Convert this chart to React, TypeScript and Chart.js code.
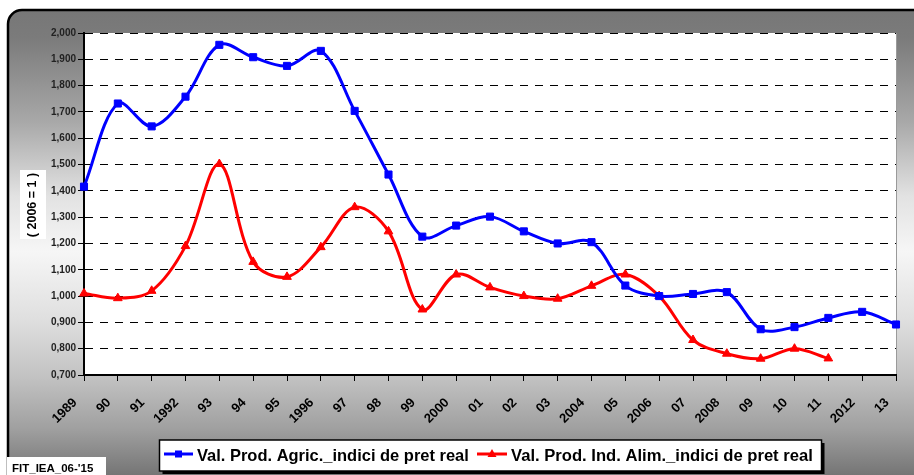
import React, { useEffect, useRef } from 'react';
import { Chart, registerables } from 'chart.js';

Chart.register(...registerables);

const yearLabels = ['1989', '90', '91', '1992', '93', '94', '95', '1996', '97', '98', '99', '2000', '01', '02', '03', '2004', '05', '2006', '07', '2008', '09', '10', '11', '2012', '13'];

const agricIndex = [1.416, 1.732, 1.645, 1.758, 1.955, 1.908, 1.875, 1.932, 1.704, 1.462, 1.226, 1.268, 1.302, 1.246, 1.2, 1.205, 1.04, 1.0, 1.008, 1.015, 0.874, 0.882, 0.917, 0.94, 0.892];

const alimIndex = [1.01, 0.992, 1.02, 1.19, 1.502, 1.13, 1.073, 1.186, 1.338, 1.246, 0.949, 1.082, 1.033, 1.0, 0.99, 1.039, 1.082, 1.0, 0.833, 0.781, 0.762, 0.8, 0.763, null, null];

const seriesNames = ['Val. Prod. Agric._indici de pret real', 'Val. Prod. Ind. Alim._indici de pret real'];
const seriesColors = ['#0000ff', '#ff0000'];
const yMin = 0.7;
const yMax = 2.0;
const yStep = 0.1;
const yAxisTitle = '( 2006 = 1 )';
const sourceNote = "FIT_IEA_06-'15";

const FONT = '"Liberation Sans", Arial, sans-serif';

const decorPlugin = {
  id: 'decor',
  beforeDraw(chart: any) {
    const ctx = chart.ctx;
    const ca = chart.chartArea;
    ctx.save();
    const g = ctx.createLinearGradient(0, 10, 0, 475);
    g.addColorStop(0, '#777777');
    g.addColorStop(0.06, '#7b7b7b');
    g.addColorStop(0.24, '#a8a8a8');
    g.addColorStop(0.4, '#e2e2e2');
    g.addColorStop(0.52, '#f6f6f6');
    g.addColorStop(0.66, '#e0e0e0');
    g.addColorStop(0.79, '#c2c2c2');
    g.addColorStop(0.9, '#a0a0a0');
    g.addColorStop(1, '#757575');
    ctx.beginPath();
    ctx.roundRect(8, 10, 940, 520, 14);
    ctx.fillStyle = g;
    ctx.fill();
    ctx.lineWidth = 2.5;
    ctx.strokeStyle = '#000';
    ctx.stroke();
    ctx.fillStyle = '#ffffff';
    ctx.fillRect(ca.left, ca.top, ca.right - ca.left, ca.bottom - ca.top);
    ctx.strokeStyle = '#9a9a9a';
    ctx.lineWidth = 1;
    ctx.beginPath();
    ctx.moveTo(ca.right + 0.5, ca.top);
    ctx.lineTo(ca.right + 0.5, ca.bottom);
    ctx.stroke();
    ctx.restore();
  },
  afterDraw(chart: any) {
    const ctx = chart.ctx;
    ctx.save();
    // y axis title box
    ctx.fillStyle = '#ffffff';
    ctx.fillRect(20, 170, 26, 69);
    ctx.translate(33, 205);
    ctx.rotate(-Math.PI / 2);
    ctx.fillStyle = '#000';
    ctx.font = `bold 12.5px ${FONT}`;
    ctx.textAlign = 'center';
    ctx.textBaseline = 'middle';
    ctx.fillText(yAxisTitle, 0, 0);
    ctx.restore();

    // source note
    ctx.save();
    ctx.fillStyle = '#ffffff';
    ctx.fillRect(7, 457, 99, 18);
    ctx.fillStyle = '#000';
    ctx.font = `bold 11.5px ${FONT}`;
    ctx.textBaseline = 'alphabetic';
    ctx.textAlign = 'left';
    ctx.fillText(sourceNote, 12, 472);
    ctx.restore();

    // legend
    ctx.save();
    const bx = 159.5, by = 440, bw = 662, bh = 31;
    ctx.fillStyle = '#000';
    ctx.fillRect(bx + 3, by + 3, bw, bh);
    ctx.fillStyle = '#fff';
    ctx.fillRect(bx, by, bw, bh);
    ctx.strokeStyle = '#000';
    ctx.lineWidth = 1.5;
    ctx.strokeRect(bx, by, bw, bh);
    const entries = [
      { x0: 164, x1: 193, tx: 197, tw: 272, style: 'rect' },
      { x0: 477, x1: 507, tx: 511, tw: 302, style: 'triangle' },
    ];
    entries.forEach((e, i) => {
      const cy = 454;
      ctx.strokeStyle = seriesColors[i];
      ctx.lineWidth = 3;
      ctx.beginPath();
      ctx.moveTo(e.x0, cy);
      ctx.lineTo(e.x1, cy);
      ctx.stroke();
      ctx.fillStyle = seriesColors[i];
      const cx = (e.x0 + e.x1) / 2;
      if (e.style === 'rect') {
        ctx.fillRect(cx - 3.5, cy - 3.5, 7, 7);
      } else {
        ctx.beginPath();
        ctx.moveTo(cx, cy - 5);
        ctx.lineTo(cx + 4.5, cy + 3);
        ctx.lineTo(cx - 4.5, cy + 3);
        ctx.closePath();
        ctx.fill();
      }
      let size = 16;
      ctx.font = `bold ${size}px ${FONT}`;
      const w = ctx.measureText(seriesNames[i]).width;
      size = size * e.tw / w;
      ctx.font = `bold ${size.toFixed(2)}px ${FONT}`;
      ctx.fillStyle = '#000';
      ctx.textAlign = 'left';
      ctx.textBaseline = 'alphabetic';
      ctx.fillText(seriesNames[i], e.tx, 461);
    });
    ctx.restore();
  },
};

export default function App() {
  const canvasRef = useRef<HTMLCanvasElement | null>(null);

  useEffect(() => {
    if (!canvasRef.current) return;
    const chart = new Chart(canvasRef.current, {
      type: 'line',
      data: {
        labels: yearLabels,
        datasets: [
          {
            label: seriesNames[0],
            data: agricIndex,
            borderColor: seriesColors[0],
            backgroundColor: seriesColors[0],
            borderWidth: 3,
            pointStyle: 'rect',
            pointRadius: 5,
            pointBorderWidth: 1,
            tension: 0.35,
            fill: false,
          },
          {
            label: seriesNames[1],
            data: alimIndex,
            borderColor: seriesColors[1],
            backgroundColor: seriesColors[1],
            borderWidth: 3,
            pointStyle: 'triangle',
            pointRadius: 5,
            pointBorderWidth: 1,
            tension: 0.35,
            fill: false,
            spanGaps: false,
          },
        ],
      },
      options: {
        responsive: false,
        animation: false,
        layout: { padding: { top: 33, right: 18, bottom: 0, left: 0 } },
        plugins: {
          legend: { display: false },
          tooltip: { enabled: false },
          title: { display: false },
        },
        scales: {
          x: {
            type: 'category',
            offset: false,
            afterFit: (s: any) => { s.height = 100; s.paddingRight = 0; s.paddingLeft = 0; },
            grid: {
              display: true,
              drawOnChartArea: false,
              drawTicks: true,
              tickLength: 6,
              tickColor: '#000',
              tickWidth: 1,
              color: '#000',
            },
            border: { display: true, color: '#000', width: 2 },
            ticks: {
              autoSkip: false,
              maxRotation: 45,
              minRotation: 45,
              padding: 14,
              labelOffset: -9,
              color: '#000',
              font: { family: FONT, size: 13, weight: 'bold' },
            },
          },
          y: {
            min: yMin,
            max: yMax,
            afterFit: (s: any) => { s.width = 84; },
            grid: {
              display: true,
              drawOnChartArea: true,
              drawTicks: true,
              tickLength: 6,
              tickColor: '#000',
              tickWidth: 1,
              tickBorderDash: [],
              color: '#000',
              lineWidth: 1,
            },
            border: { display: true, color: '#000', width: 2, dash: [8, 7] },
            ticks: {
              stepSize: yStep,
              padding: 2,
              color: '#222',
              font: { family: FONT, size: 10, weight: 'bold' },
              callback: (v: any) => Number(v).toFixed(3).replace('.', ','),
            },
          },
        },
      },
      plugins: [decorPlugin],
    });
    return () => chart.destroy();
  }, []);

  return (
    <div style={{ position: 'absolute', left: 0, top: 0, width: 914, height: 475 }}>
      <canvas ref={canvasRef} width={914} height={475} style={{ width: 914, height: 475, display: 'block' }} />
    </div>
  );
}
